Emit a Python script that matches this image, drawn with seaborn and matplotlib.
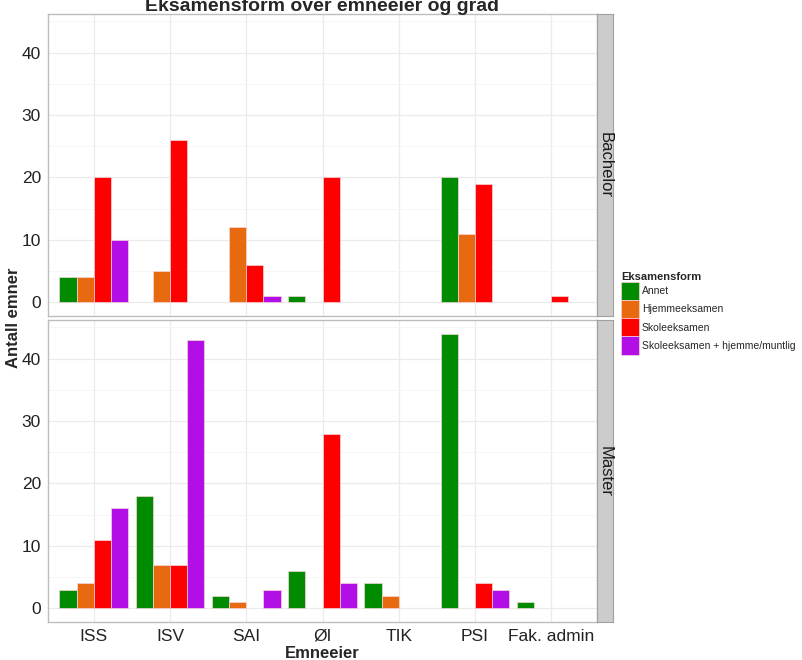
import pandas as pd
import matplotlib
matplotlib.use("Agg")
import matplotlib.pyplot as plt
import matplotlib.patches as mpatches
from matplotlib.ticker import MultipleLocator
import seaborn as sns

owners = ["ISS", "ISV", "SAI", "ØI", "TIK", "PSI", "Fak. admin"]
forms = ["Annet", "Hjemmeeksamen", "Skoleeksamen", "Skoleeksamen + hjemme/muntlig"]
degrees = ["Bachelor", "Master"]
colors = ["#008B00", "#E86A10", "#FF0000", "#B10FE6"]

# counts per owner, one list per exam form
bachelor_annet = [4, 0, 0, 1, 0, 20, 0]
bachelor_hjemme = [4, 5, 12, 0, 0, 11, 0]
bachelor_skole = [20, 26, 6, 20, 0, 19, 1]
bachelor_skole_plus = [10, 0, 1, 0, 0, 0, 0]

master_annet = [3, 18, 2, 6, 4, 44, 1]
master_hjemme = [4, 7, 1, 0, 2, 0, 0]
master_skole = [11, 7, 0, 28, 0, 4, 0]
master_skole_plus = [16, 43, 3, 4, 0, 3, 0]

series = {
    "Bachelor": [bachelor_annet, bachelor_hjemme, bachelor_skole, bachelor_skole_plus],
    "Master": [master_annet, master_hjemme, master_skole, master_skole_plus],
}

rows = []
for deg in degrees:
    for form, vals in zip(forms, series[deg]):
        for owner, v in zip(owners, vals):
            if v > 0:
                rows.append({"Grad": deg, "Emneeier": owner, "Eksamensform": form, "Antall": v})
df = pd.DataFrame(rows)

sns.set_style("white")
plt.rcParams["font.family"] = ["Liberation Sans", "DejaVu Sans"]

fig = plt.figure(figsize=(8.02, 6.6), dpi=100)
W, H = 802, 660
panel_boxes = [(48, 14, 597, 316), (48, 320, 597, 622)]
palette = dict(zip(forms, colors))
edge = "#F6D6DC"

for i, (deg, (l, t, r, b)) in enumerate(zip(degrees, panel_boxes)):
    ax = fig.add_axes([l / W, 1 - b / H, (r - l) / W, (b - t) / H])
    sub = df[df["Grad"] == deg]
    sns.barplot(data=sub, x="Emneeier", y="Antall", hue="Eksamensform",
                order=owners, hue_order=forms, palette=palette, width=0.9,
                saturation=1, edgecolor=edge, linewidth=0.5, errorbar=None,
                ax=ax, legend=False, zorder=3)
    ax.set_xlim(-0.6, len(owners) - 0.4)
    ax.set_ylim(-2.2, 46.2)
    ax.yaxis.set_major_locator(MultipleLocator(10))
    ax.yaxis.set_minor_locator(MultipleLocator(5))
    ax.grid(which="major", color="#EBEBEB", linewidth=0.9, zorder=0)
    ax.grid(which="minor", axis="y", color="#F5F5F5", linewidth=0.6, zorder=0)
    ax.set_axisbelow(True)
    for s in ax.spines.values():
        s.set_color("#BDBDBD")
        s.set_linewidth(1.0)
    ax.tick_params(axis="both", which="major", length=3, color="#7F7F7F",
                   labelsize=12.5, labelcolor="#222222", pad=2)
    ax.tick_params(axis="both", which="minor", length=0)
    ax.set_xlabel("")
    ax.set_ylabel("")
    if i == 0:
        ax.tick_params(axis="x", labelbottom=False, length=0)

    # facet strip on the right
    sax = fig.add_axes([r / W, 1 - b / H, 16 / W, (b - t) / H])
    sax.set_facecolor("#CCCCCC")
    sax.set_xticks([])
    sax.set_yticks([])
    for s in sax.spines.values():
        s.set_color("#A0A0A0")
    sax.text(0.5, 0.5, deg, rotation=-90, ha="center", va="center",
             fontsize=12, color="#1A1A1A", transform=sax.transAxes)

fig.text(322 / W, 1 - 11 / H, "Eksamensform over emneeier og grad",
         ha="center", va="baseline", fontsize=14, fontweight="bold")
fig.text(14 / W, 1 - 318 / H, "Antall emner", rotation=90, ha="center",
         va="center", fontsize=12, fontweight="bold")
fig.text(322 / W, 1 - 653 / H, "Emneeier", ha="center", va="center",
         fontsize=12, fontweight="bold")

handles = [mpatches.Patch(facecolor=c, edgecolor=edge, linewidth=0.5, label=f)
           for f, c in zip(forms, colors)]
leg = fig.legend(handles=handles, title="Eksamensform", loc="upper left",
                 bbox_to_anchor=(621 / W, 1 - 272 / H), frameon=False,
                 fontsize=7.5, title_fontsize=8, handlelength=1.7,
                 handleheight=2.3, labelspacing=0.0, handletextpad=0.3,
                 borderpad=0, borderaxespad=0)
leg.get_title().set_fontweight("bold")
leg._legend_box.align = "left"

fig.savefig("out.png", dpi=100)
